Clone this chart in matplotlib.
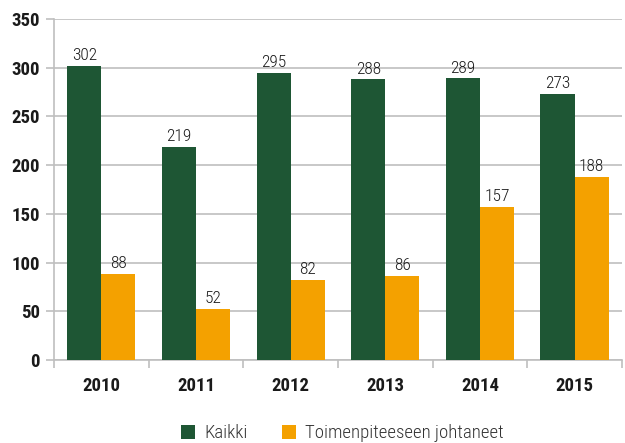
import matplotlib
matplotlib.use("Agg")
import matplotlib.pyplot as plt
import numpy as np

vuodet = ["2010", "2011", "2012", "2013", "2014", "2015"]
kaikki = [302, 219, 295, 288, 289, 273]
johtaneet = [88, 52, 82, 86, 157, 188]
sarjat = ["Kaikki", "Toimenpiteeseen johtaneet"]
y_ticks = [0, 50, 100, 150, 200, 250, 300, 350]

vihrea = "#1e5634"
oranssi = "#f4a100"
harmaa = "#bfbfbf"

plt.rcParams["font.family"] = ["Roboto Condensed", "Liberation Sans Narrow", "DejaVu Sans"]
plt.rcParams["font.stretch"] = "condensed"

fig = plt.figure(figsize=(6.25, 4.43), dpi=100)
ax = fig.add_axes([0.0864, 0.1874, 0.9086, 0.7696])

x = np.arange(len(vuodet))
w = 0.36
b1 = ax.bar(x - w / 2, kaikki, w, color=vihrea, label=sarjat[0], zorder=3)
b2 = ax.bar(x + w / 2, johtaneet, w, color=oranssi, label=sarjat[1], zorder=3)

for bars, vals in ((b1, kaikki), (b2, johtaneet)):
    for r, v in zip(bars, vals):
        ax.text(r.get_x() + r.get_width() / 2, v + 3, str(v), ha="center",
                va="bottom", fontsize=12.5, fontweight="light", color="#1a1a1a")

ax.set_xlim(-0.5, len(vuodet) - 0.5)
ax.set_ylim(0, 350)
ax.set_yticks(y_ticks)
ax.set_yticklabels([str(t) for t in y_ticks], fontsize=13.5, fontweight="bold", color="#1a1a1a")
ax.yaxis.grid(True, color=harmaa, linewidth=1.2, zorder=0)
ax.tick_params(axis="y", length=6, color=harmaa, width=1.2, pad=4)

# kategorioiden rajat alareunan tikkeinä
ax.set_xticks(np.arange(-0.5, len(vuodet), 1.0))
ax.set_xticklabels([])
ax.set_xticks(x, minor=True)
ax.set_xticklabels(vuodet, minor=True, fontsize=13.5, fontweight="bold", color="#1a1a1a")
ax.tick_params(axis="x", which="major", length=6, color=harmaa, width=1.2)
ax.tick_params(axis="x", which="minor", length=0, pad=12)

for s in ("top", "right"):
    ax.spines[s].set_visible(False)
for s in ("left", "bottom"):
    ax.spines[s].set_color(harmaa)
    ax.spines[s].set_linewidth(1.2)

leg = fig.legend(handles=[b1, b2], loc="center", bbox_to_anchor=(0.548, 0.022),
                 ncol=2, frameon=False, fontsize=13.5, handlelength=0.75, handleheight=0.75,
                 handletextpad=0.5, columnspacing=1.8, labelcolor="#333333")
for t in leg.get_texts():
    t.set_fontweight("light")

fig.savefig("out.png", dpi=100)
